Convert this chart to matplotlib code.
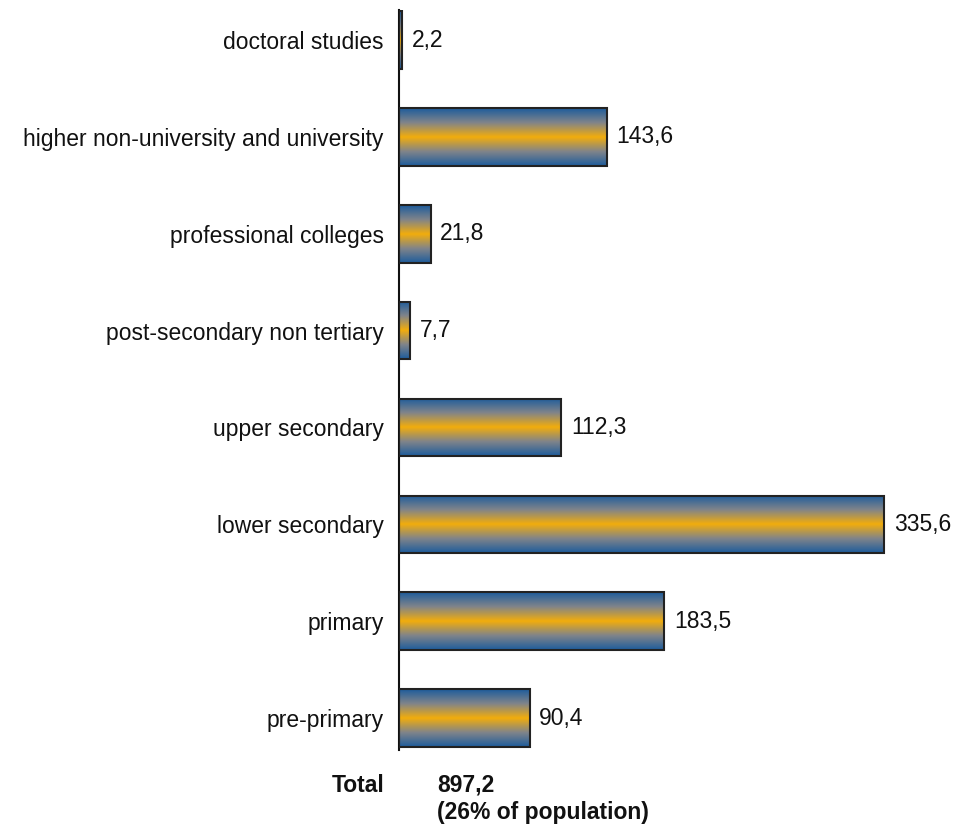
import numpy as np
import matplotlib
matplotlib.use("Agg")
import matplotlib.pyplot as plt
from matplotlib.colors import LinearSegmentedColormap

plt.rcParams['font.family'] = ['Liberation Sans', 'DejaVu Sans']

# pupils / students by level of education (thousands)
levels = ["pre-primary", "primary", "lower secondary", "upper secondary",
          "post-secondary non tertiary", "professional colleges",
          "higher non-university and university", "doctoral studies"]
values = [90.4, 183.5, 335.6, 112.3, 7.7, 21.8, 143.6, 2.2]
total_value = 897.2
total_share = "26% of population"

fmt = lambda v: f"{v:.1f}".replace(".", ",")
FS = 16.5
INK = "#111111"

W, H = 955, 827
fig = plt.figure(figsize=(W / 100, H / 100), dpi=100)
ax = fig.add_axes([399 / W, 1 - 750 / H, 541 / W, 740 / H])

# blue - orange - blue vertical shading inside each bar
cmap = LinearSegmentedColormap.from_list(
    "bar", ["#1d5c9c", "#80848a", "#f2ad0c", "#80848a", "#1d5c9c"])
grad = np.linspace(0, 1, 256).reshape(-1, 1)

h = 0.595
ys = np.arange(len(levels))
ax.barh(ys, values, height=h, color="none", edgecolor="#222222",
        linewidth=1.5, zorder=3)
for y, v in zip(ys, values):
    ax.imshow(grad, cmap=cmap, aspect="auto", interpolation="bilinear",
              extent=(0, v, y - h / 2, y + h / 2), zorder=2)
    ax.annotate(fmt(v), (v, y), xytext=(7, 0), textcoords="offset points",
                ha="left", va="center", fontsize=FS, color=INK)

ax.set_xlim(0, 541 / 1.445)
ax.set_ylim(-0.33, len(levels) - 1 + 0.31)
ax.set_yticks(ys)
ax.set_yticklabels(levels, fontsize=FS, color=INK)
ax.tick_params(axis="y", length=0, pad=11)
ax.set_xticks([])
for s in ["top", "right", "bottom"]:
    ax.spines[s].set_visible(False)
ax.spines["left"].set_linewidth(1.5)
ax.spines["left"].set_color(INK)

# total line below the axis
fig.text(385 / W, 1 - 785 / H, "Total", ha="right", va="center",
         fontsize=FS, fontweight="bold", color=INK)
fig.text(437 / W, 1 - 785 / H, fmt(total_value), ha="left", va="center",
         fontsize=FS, fontweight="bold", color=INK)
fig.text(437 / W, 1 - 813 / H, f"({total_share})", ha="left", va="center",
         fontsize=FS, fontweight="bold", color=INK)

fig.savefig("out.png", dpi=100)
